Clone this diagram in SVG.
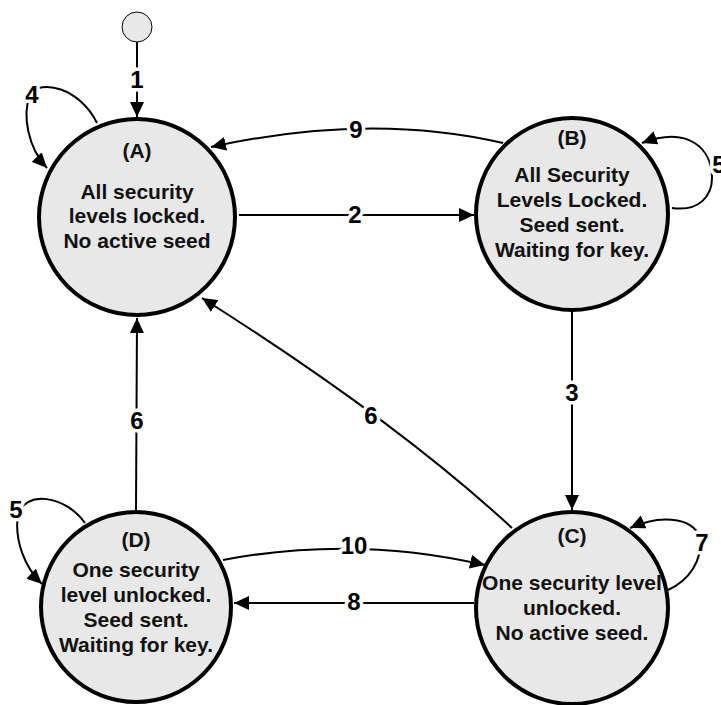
<svg xmlns="http://www.w3.org/2000/svg" width="721" height="705" viewBox="0 0 721 705">
<defs>
<marker id="ah" markerUnits="userSpaceOnUse" markerWidth="16" markerHeight="14" refX="15" refY="7" orient="auto">
<path d="M0,0 L15,7 L0,14 z" fill="#000"/>
</marker>
<style>
.st{fill:#e8e8e8;stroke:#000;stroke-width:4}
.nt{font-family:"Liberation Sans",Arial,sans-serif;font-weight:bold;font-size:21px;fill:#111;text-anchor:middle}
.ed{fill:none;stroke:#000;stroke-width:2;marker-end:url(#ah)}
.lb{font-family:"Liberation Sans",Arial,sans-serif;font-weight:bold;font-size:24px;fill:#000;text-anchor:middle;stroke:#fff;stroke-width:7;stroke-linejoin:round;paint-order:stroke}
</style>
</defs>
<rect width="721" height="705" fill="#fff"/>
<g id="start">
<circle cx="137" cy="27" r="15" fill="#e8e8e8" stroke="#000" stroke-width="1"/>
</g>
<g id="A">
<circle class="st" cx="137" cy="217" r="98"/>
<text class="nt" x="137" y="158">(A)</text>
<text class="nt" x="137" y="199">All security</text>
<text class="nt" x="137" y="223">levels locked.</text>
<text class="nt" x="137" y="248">No active seed</text>
</g>
<g id="B">
<circle class="st" cx="572" cy="214" r="96"/>
<text class="nt" x="572" y="145">(B)</text>
<text class="nt" x="572" y="182">All Security</text>
<text class="nt" x="572" y="207">Levels Locked.</text>
<text class="nt" x="572" y="232">Seed sent.</text>
<text class="nt" x="572" y="257">Waiting for key.</text>
</g>
<g id="D">
<circle class="st" cx="136" cy="607" r="95"/>
<text class="nt" x="136" y="547">(D)</text>
<text class="nt" x="136" y="577">One security</text>
<text class="nt" x="136" y="602">level unlocked.</text>
<text class="nt" x="136" y="627">Seed sent.</text>
<text class="nt" x="136" y="652">Waiting for key.</text>
</g>
<g id="C">
<circle class="st" cx="572" cy="608" r="96"/>
<text class="nt" x="572" y="543">(C)</text>
<text class="nt" x="572" y="590">One security level</text>
<text class="nt" x="572" y="615">unlocked.</text>
<text class="nt" x="572" y="640">No active seed.</text>
</g>
<g id="connectors">
<path class="ed" d="M137,42 L137,117"/>
<path class="ed" d="M97,123 C80,88 40,78 30,95 C22,115 28,148 47,168"/>
<path class="ed" d="M503,143 Q370,112 211,147"/>
<path class="ed" d="M239,215 L474,215"/>
<path class="ed" d="M672,208 C700,212 712,195 712,178 C712,150 690,125 642,143"/>
<path class="ed" d="M572,312 L572,510"/>
<path class="ed" d="M512,528 Q395,420 202,298"/>
<path class="ed" d="M136,510 L137,318"/>
<path class="ed" d="M85,523 C65,495 25,490 18,515 C14,540 25,568 42,584"/>
<path class="ed" d="M223,560 Q355,535 485,565"/>
<path class="ed" d="M474,603 L234,603"/>
<path class="ed" d="M668,590 C690,580 702,560 700,540 C698,520 665,512 630,528"/>
<text class="lb" x="137" y="88">1</text>
<text class="lb" x="32" y="103">4</text>
<text class="lb" x="356" y="138">9</text>
<text class="lb" x="355" y="223">2</text>
<text class="lb" x="719" y="173">5</text>
<text class="lb" x="572" y="401">3</text>
<text class="lb" x="371" y="424">6</text>
<text class="lb" x="137" y="429">6</text>
<text class="lb" x="16" y="518">5</text>
<text class="lb" x="354" y="554">10</text>
<text class="lb" x="354" y="610">8</text>
<text class="lb" x="702" y="551">7</text>
</g>
</svg>
